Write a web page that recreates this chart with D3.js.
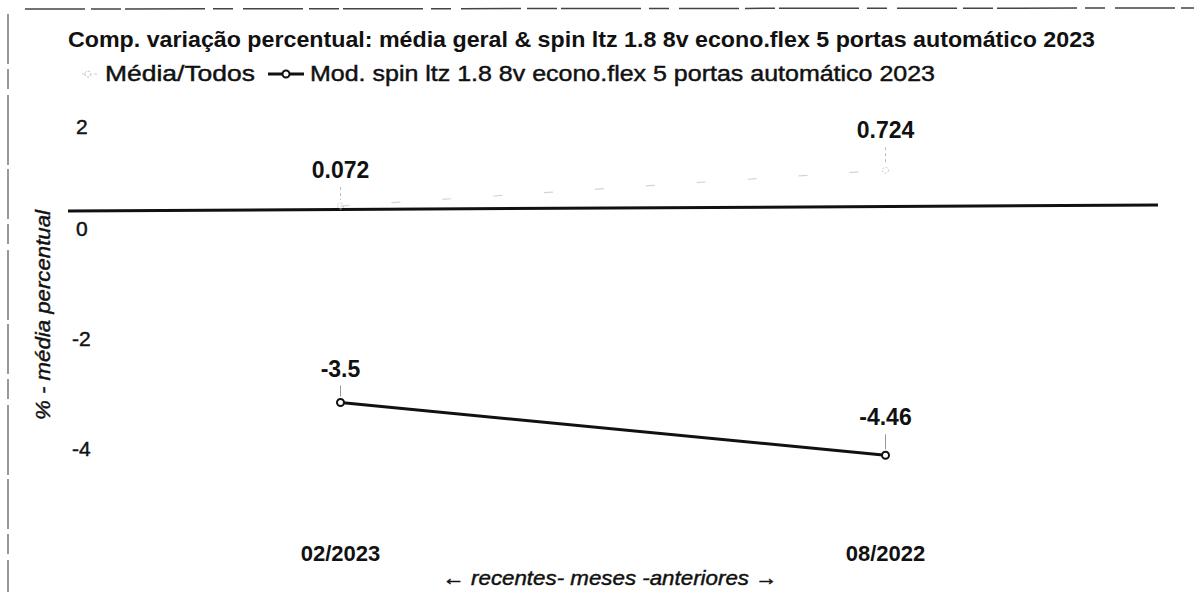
<!DOCTYPE html>
<html><head><meta charset="utf-8">
<script src="https://cdn.jsdelivr.net/npm/d3@7"></script>
<style>body{margin:0;background:#fff}svg{display:block}text{font-family:"Liberation Sans",Arial,sans-serif}.heavy{stroke:#111;stroke-width:0.45px}</style>
</head><body>
<svg id="c" width="1194" height="592"></svg>
<script>
const categories = ["02/2023", "08/2022"];
const mediaValues = [0.072, 0.724];
const modValues = [-3.5, -4.46];
const yTicks = [2, 0, -2, -4];
const titleText = "Comp. variação percentual: média geral & spin ltz 1.8 8v econo.flex 5 portas automático 2023";
const legendLabels = ["Média/Todos", "Mod. spin ltz 1.8 8v econo.flex 5 portas automático 2023"];
const xTitle = "← recentes- meses -anteriores →";
const yTitle = "% - média percentual";

const svg = d3.select("#c");
const left = 68, right = 1158;
const x = d3.scalePoint().domain(categories).range([left, right]).padding(0.5);
const y = d3.scaleLinear().domain([0, -4]).range([210, 430]);

// scanned frame
svg.append("line").attr("x1", 25).attr("x2", 1194).attr("y1", 9).attr("y2", 8)
  .attr("stroke", "#444").attr("stroke-width", 1.5).attr("stroke-dasharray", "60,6,30,4,80,8,20,10");
svg.append("line").attr("x1", 8).attr("x2", 8).attr("y1", 14).attr("y2", 592)
  .attr("stroke", "#555").attr("stroke-width", 1.2).attr("stroke-dasharray", "50,5,20,6,70,4");

// title
svg.append("text").attr("x", 68).attr("y", 47).attr("font-size", 22).attr("font-weight", "bold")
  .attr("fill", "#111").attr("textLength", 1027).attr("lengthAdjust", "spacingAndGlyphs").text(titleText);

// legend
const lg = svg.append("g");
lg.append("line").attr("x1", 82).attr("x2", 98).attr("y1", 74).attr("y2", 74)
  .attr("stroke", "#ccc").attr("stroke-width", 1.2).attr("stroke-dasharray", "3,3");
lg.append("circle").attr("cx", 88).attr("cy", 74).attr("r", 3).attr("fill", "#fff").attr("stroke", "#bbb").attr("stroke-width", 1).attr("stroke-dasharray", "2,1.5");
lg.append("text").attr("class", "heavy").attr("x", 105).attr("y", 81).attr("font-size", 22).attr("fill", "#111")
  .attr("textLength", 150).attr("lengthAdjust", "spacingAndGlyphs").text(legendLabels[0]);
lg.append("line").attr("x1", 268).attr("x2", 304).attr("y1", 74).attr("y2", 74)
  .attr("stroke", "#111").attr("stroke-width", 3);
lg.append("circle").attr("cx", 286).attr("cy", 74).attr("r", 3.5).attr("fill", "#fff").attr("stroke", "#111").attr("stroke-width", 2);
lg.append("text").attr("class", "heavy").attr("x", 310).attr("y", 81).attr("font-size", 22).attr("fill", "#111")
  .attr("textLength", 625).attr("lengthAdjust", "spacingAndGlyphs").text(legendLabels[1]);

// y tick labels
svg.append("g").selectAll("text").data(yTicks).join("text").attr("class", "heavy")
  .attr("x", d => d < 0 ? 72 : 76).attr("y", d => y(d) + (d === 2 ? 34 : 26)).attr("font-size", 21).attr("fill", "#111")
  .text(d => d);

// zero line
svg.append("line").attr("x1", left).attr("x2", right).attr("y1", y(0) + 1).attr("y2", y(0) - 5)
  .attr("stroke", "#111").attr("stroke-width", 3);

// y title
svg.append("text").attr("class", "heavy").attr("transform", `translate(50,${315}) rotate(-90)`).attr("text-anchor", "middle")
  .attr("font-size", 21).attr("font-style", "italic").attr("fill", "#111")
  .attr("textLength", 210).attr("lengthAdjust", "spacingAndGlyphs").text(yTitle);

// x tick labels
svg.append("g").selectAll("text").data(categories).join("text")
  .attr("x", d => x(d)).attr("y", 561).attr("text-anchor", "middle").attr("font-size", 22)
  .attr("font-weight", "bold").attr("fill", "#111").text(d => d);
svg.append("text").attr("class", "heavy").attr("x", 610).attr("y", 585).attr("text-anchor", "middle").attr("font-size", 21)
  .attr("font-style", "italic").attr("fill", "#111")
  .attr("textLength", 335).attr("lengthAdjust", "spacingAndGlyphs").text(xTitle);

// media series (faint)
const line = d3.line().x((d, i) => x(categories[i])).y(d => y(d));
svg.append("path").datum(mediaValues).attr("d", line).attr("fill", "none")
  .attr("stroke", "#d4d4d4").attr("stroke-width", 1.2).attr("stroke-dasharray", "9,42");
svg.append("g").selectAll("circle").data(mediaValues).join("circle")
  .attr("cx", (d, i) => x(categories[i])).attr("cy", d => y(d)).attr("r", 3)
  .attr("fill", "none").attr("stroke", "#ccc").attr("stroke-width", 1).attr("stroke-dasharray", "2,1.5");

// mod series
svg.append("path").datum(modValues).attr("d", line).attr("fill", "none")
  .attr("stroke", "#111").attr("stroke-width", 3);
svg.append("g").selectAll("circle").data(modValues).join("circle")
  .attr("cx", (d, i) => x(categories[i])).attr("cy", d => y(d)).attr("r", 3.5)
  .attr("fill", "#fff").attr("stroke", "#111").attr("stroke-width", 2);

// value labels with leaders
const allLabels = mediaValues.map((v, i) => ({v, i, off: i === 0 ? 28 : 32, lead: "#bbb", dash: "3,3"}))
  .concat(modValues.map((v, i) => ({v, i, off: i === 0 ? 26 : 30, lead: "#999", dash: null})));
const lab = svg.append("g");
lab.selectAll("line").data(allLabels).join("line")
  .attr("x1", d => x(categories[d.i])).attr("x2", d => x(categories[d.i]))
  .attr("y1", d => y(d.v) - d.off + 9).attr("y2", d => y(d.v) - 6)
  .attr("stroke", d => d.lead).attr("stroke-width", 1).attr("stroke-dasharray", d => d.dash);
lab.selectAll("text").data(allLabels).join("text")
  .attr("x", d => x(categories[d.i])).attr("y", d => y(d.v) - d.off)
  .attr("text-anchor", "middle").attr("font-size", 23).attr("font-weight", "bold").attr("fill", "#111")
  .text(d => d.v);
</script>
</body></html>
